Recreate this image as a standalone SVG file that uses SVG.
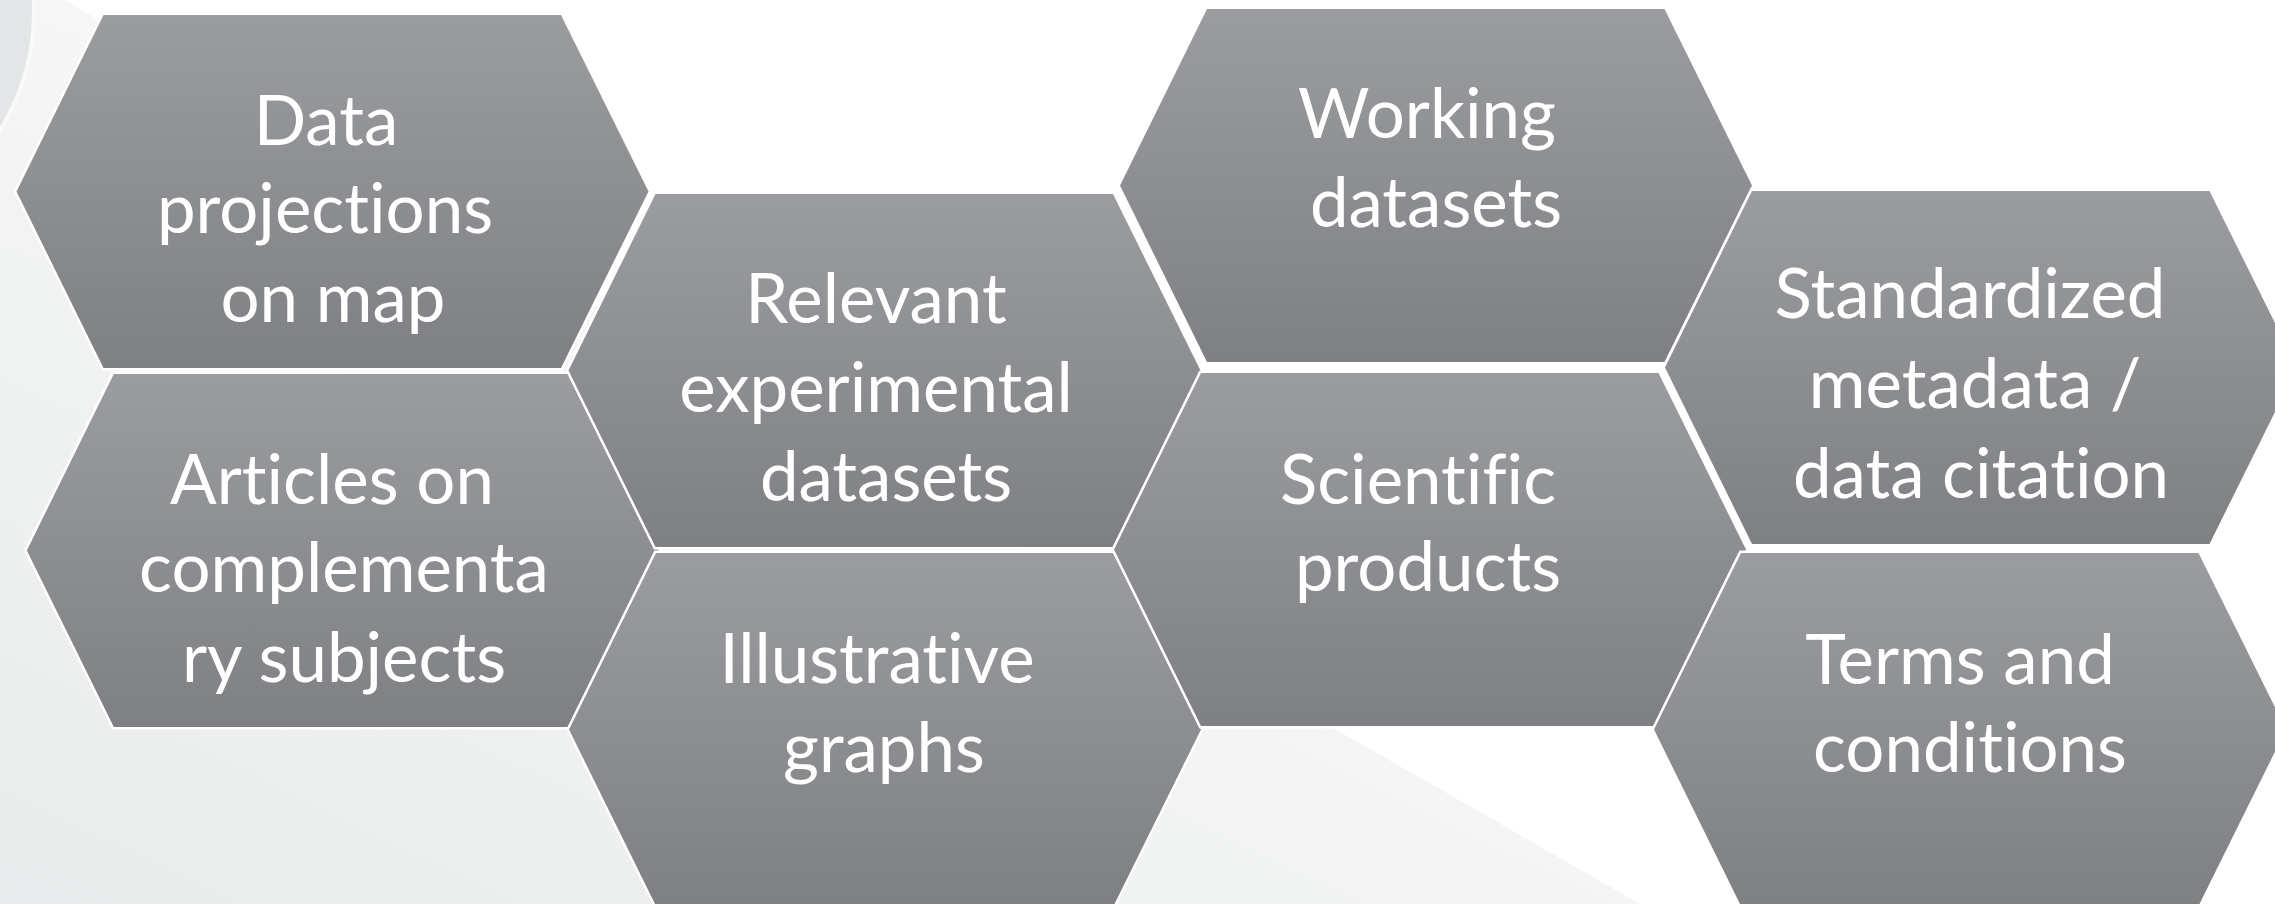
<svg xmlns="http://www.w3.org/2000/svg" width="2275" height="904" viewBox="0 0 2275 904">
  <defs>
    <linearGradient id="hexFill" x1="0" y1="0" x2="0" y2="1">
      <stop offset="0" stop-color="#9b9c9f"/>
      <stop offset="1" stop-color="#7f8084"/>
    </linearGradient>
    <linearGradient id="bgFill" x1="0" y1="1" x2="0.55" y2="0.35">
      <stop offset="0" stop-color="#e9eaeb"/>
      <stop offset="0.6" stop-color="#f1f2f2"/>
      <stop offset="1" stop-color="#f8f8f8"/>
    </linearGradient>
    <polygon id="hex" points="0,176.5 87,0 544.5,0 632,176.5 544.5,353 87,353"/>
  </defs>
  <style>
    .hex { fill: url(#hexFill); stroke: #ffffff; stroke-width: 5; paint-order: stroke; stroke-linejoin: miter; }
    .lbl { font-family: Lato, "Open Sans", "Liberation Sans", sans-serif; font-size: 69px; fill: #ffffff; text-anchor: middle; font-variant-ligatures: none; font-feature-settings: "liga" 0, "clig" 0; }
  </style>

  <!-- background -->
  <rect x="0" y="0" width="2275" height="904" fill="#ffffff"/>
  <polygon points="0,-37 1640,904 0,904" fill="url(#bgFill)"/>
  <circle cx="-193" cy="11" r="229" fill="#f9f9f9"/>
  <circle cx="-193" cy="11" r="225" fill="#e2e6e7"/>

  <g id="connectors"></g>

  <g id="node-data-projections">
    <use href="#hex" class="hex" transform="translate(16.5,15)"/>
    <text class="lbl" x="326" y="145">Data</text>
    <text class="lbl" x="325" y="233">projections</text>
    <text class="lbl" x="333" y="322">on map</text>
  </g>

  <g id="node-articles">
    <use href="#hex" class="hex" transform="translate(26.8,374)"/>
    <text class="lbl" x="332" y="504">Articles on</text>
    <text class="lbl" x="344" y="592">complementa</text>
    <text class="lbl" x="344" y="682">ry subjects</text>
  </g>

  <g id="node-relevant">
    <use href="#hex" class="hex" transform="translate(568.5,194)"/>
    <text class="lbl" x="876" y="323">Relevant</text>
    <text class="lbl" x="876" y="412">experimental</text>
    <text class="lbl" x="886" y="501">datasets</text>
  </g>

  <g id="node-illustrative">
    <use href="#hex" class="hex" transform="translate(569,553)"/>
    <text class="lbl" x="877" y="683">Illustrative</text>
    <text class="lbl" x="884" y="772">graphs</text>
  </g>

  <g id="node-working">
    <use href="#hex" class="hex" transform="translate(1120,9)"/>
    <text class="lbl" x="1427" y="138">Working</text>
    <text class="lbl" x="1436" y="227">datasets</text>
  </g>

  <g id="node-scientific">
    <use href="#hex" class="hex" transform="translate(1114,373)"/>
    <text class="lbl" x="1418" y="504">Scientific</text>
    <text class="lbl" x="1428" y="591">products</text>
  </g>

  <g id="node-standardized">
    <use href="#hex" class="hex" transform="translate(1665,191)"/>
    <text class="lbl" x="1970" y="318">Standardized</text>
    <text class="lbl" x="1975" y="408">metadata /</text>
    <text class="lbl" x="1981" y="498">data citation</text>
  </g>

  <g id="node-terms">
    <use href="#hex" class="hex" transform="translate(1654,553)"/>
    <text class="lbl" x="1960" y="684">Terms and</text>
    <text class="lbl" x="1970" y="772">conditions</text>
  </g>
</svg>
